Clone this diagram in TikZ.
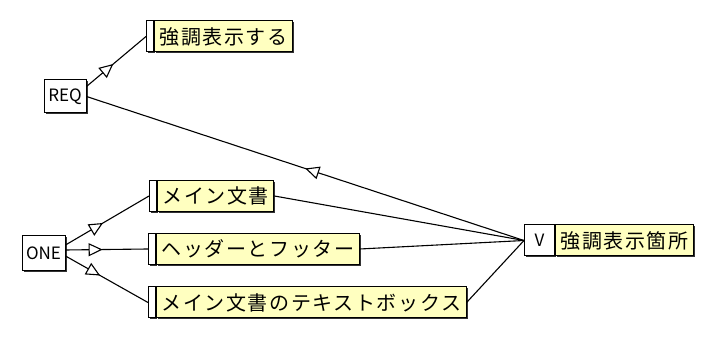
\documentclass[tikz,border=0pt]{standalone}
\usepackage{fontspec}
\setmainfont{Noto Sans CJK JP}[LetterSpace=8]
\newfontfamily\tagfont{Noto Sans CJK JP}
\usetikzlibrary{positioning}
\usetikzlibrary{decorations.markings}
\usetikzlibrary{arrows.meta}
\definecolor{noteyellow}{RGB}{255,255,192}
\definecolor{boxshadow}{RGB}{50,50,50}
\begin{document}
\begin{tikzpicture}[x=1pt,y=-1pt,
        box/.style={draw,line width=1pt,inner sep=0pt,
            preaction={fill=boxshadow,transform canvas={xshift=1.5pt,yshift=-1.5pt}}},
        tag/.style={box,fill=white,minimum width=43pt,minimum height=34pt,font=\tagfont\fontsize{17}{17}\selectfont},
        strip/.style={box,fill=white,minimum width=7pt,minimum height=31pt,anchor=west},
        note/.style={box,fill=noteyellow,minimum height=31pt,inner xsep=5pt,font=\fontsize{20}{20}\selectfont},
        link/.style={line width=1.1pt},
        midtip/.style={postaction={decorate},decoration={markings,
            mark=at position #1 with {\arrow{Triangle[fill=white,length=14pt,width=13pt]}}}}]
        \useasboundingbox (0,0) rectangle (716,344);

        \node[strip] (s1) at (146,36.5) {};
        \node[note,right=0pt of s1] (emph) {強調表示する};
        \node[tag,minimum width=42pt,minimum height=33pt] (REQ) at (65,96.5) {REQ};

        \node[tag,minimum height=35pt] (ONE) at (43.5,253.5) {ONE};
        \node[strip] (s2) at (149,196) {};
        \node[note,right=0pt of s2] (main) {メイン文書};
        \node[strip] (s3) at (148,249) {};
        \node[note,right=0pt of s3] (header) {ヘッダーとフッター};
        \node[strip] (s4) at (148,302.5) {};
        \node[note,right=0pt of s4] (textbox) {メイン文書のテキストボックス};

        \node[tag,minimum width=30pt,minimum height=31pt,anchor=west] (V) at (524,240.5) {V};
        \node[note,right=0pt of V] (place) {強調表示箇所};

        \draw[link,midtip=0.45] ([yshift=10pt]REQ.east) -- (s1.west);
        \draw[link,midtip=0.5] (V.west) -- (REQ.east);
        \draw[link,midtip=0.45] ([yshift=8.5pt]ONE.east) -- (s2.west);
        \draw[link,midtip=0.45] ([yshift=3.5pt]ONE.east) -- (s3.west);
        \draw[link,midtip=0.42] ([yshift=-2.5pt]ONE.east) -- (s4.west);
        \draw[link] (main.east) -- (V.west);
        \draw[link] (header.east) -- (V.west);
        \draw[link] (textbox.east) -- (V.west);
    \end{tikzpicture}
\end{document}
